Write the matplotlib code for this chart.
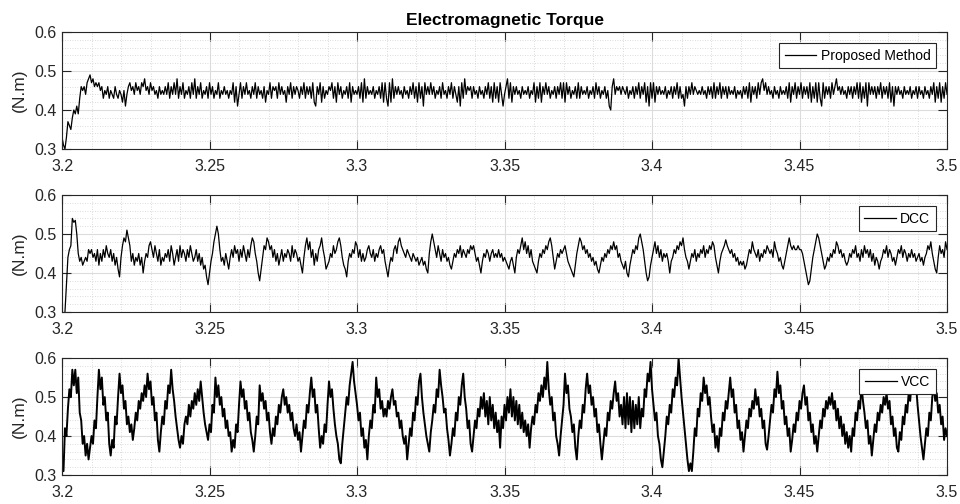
import numpy as np
import matplotlib.pyplot as plt
from matplotlib.ticker import MultipleLocator

plt.rcParams['font.family'] = ['Liberation Sans', 'DejaVu Sans']

# sample step of the traces (s)
dt = 0.0005
t0 = 3.2

# Proposed Method torque (N.m), one row = 0.01 s
tq_prop = [
    0.33, 0.31, 0.30, 0.33, 0.37, 0.36, 0.35, 0.38, 0.40, 0.39, 0.41, 0.39, 0.43, 0.46, 0.45, 0.46, 0.44, 0.47, 0.48, 0.49,
    0.47, 0.48, 0.46, 0.47, 0.46, 0.47, 0.45, 0.46, 0.43, 0.45, 0.44, 0.46, 0.43, 0.45, 0.44, 0.43, 0.46, 0.44, 0.43, 0.45,
    0.44, 0.42, 0.45, 0.41, 0.44, 0.46, 0.47, 0.45, 0.46, 0.44, 0.47, 0.45, 0.46, 0.44, 0.47, 0.46, 0.48, 0.45, 0.46, 0.44,
    0.47, 0.45, 0.46, 0.44, 0.45, 0.43, 0.46, 0.44, 0.45, 0.44, 0.46, 0.44, 0.47, 0.43, 0.46, 0.44, 0.47, 0.44, 0.48, 0.43,
    0.46, 0.44, 0.47, 0.43, 0.45, 0.44, 0.46, 0.43, 0.47, 0.44, 0.48, 0.43, 0.46, 0.44, 0.47, 0.43, 0.45, 0.44, 0.46, 0.43,
    0.47, 0.44, 0.46, 0.43, 0.45, 0.44, 0.47, 0.43, 0.45, 0.44, 0.46, 0.44, 0.45, 0.43, 0.45, 0.44, 0.47, 0.42, 0.46, 0.41,
    0.44, 0.47, 0.43, 0.46, 0.44, 0.47, 0.44, 0.45, 0.43, 0.46, 0.44, 0.47, 0.43, 0.46, 0.44, 0.45, 0.43, 0.46, 0.42, 0.45,
    0.44, 0.47, 0.43, 0.46, 0.45, 0.46, 0.43, 0.47, 0.44, 0.46, 0.44, 0.45, 0.42, 0.46, 0.44, 0.47, 0.43, 0.46, 0.44, 0.46,
    0.45, 0.43, 0.46, 0.44, 0.47, 0.43, 0.46, 0.44, 0.46, 0.43, 0.47, 0.42, 0.41, 0.46, 0.44, 0.47, 0.42, 0.46, 0.43, 0.45,
    0.44, 0.46, 0.45, 0.47, 0.43, 0.46, 0.42, 0.47, 0.44, 0.46, 0.43, 0.45, 0.44, 0.46, 0.43, 0.47, 0.42, 0.46, 0.44, 0.45,
    0.44, 0.46, 0.43, 0.47, 0.42, 0.48, 0.43, 0.46, 0.44, 0.45, 0.44, 0.46, 0.43, 0.45, 0.44, 0.46, 0.43, 0.47, 0.42, 0.47,
    0.43, 0.41, 0.47, 0.42, 0.48, 0.43, 0.46, 0.44, 0.46, 0.44, 0.45, 0.43, 0.46, 0.44, 0.45, 0.43, 0.46, 0.44, 0.47, 0.43,
    0.46, 0.42, 0.47, 0.43, 0.46, 0.41, 0.47, 0.44, 0.46, 0.44, 0.47, 0.44, 0.46, 0.43, 0.45, 0.44, 0.46, 0.43, 0.47, 0.44,
    0.45, 0.43, 0.46, 0.44, 0.47, 0.43, 0.46, 0.44, 0.42, 0.46, 0.41, 0.47, 0.43, 0.48, 0.44, 0.46, 0.45, 0.46, 0.43, 0.46,
    0.44, 0.45, 0.43, 0.46, 0.44, 0.45, 0.43, 0.46, 0.44, 0.47, 0.43, 0.46, 0.42, 0.47, 0.43, 0.46, 0.42, 0.47, 0.44, 0.41,
    0.44, 0.46, 0.48, 0.43, 0.47, 0.42, 0.46, 0.44, 0.46, 0.44, 0.45, 0.43, 0.46, 0.44, 0.45, 0.44, 0.46, 0.43, 0.45, 0.44,
    0.47, 0.42, 0.46, 0.43, 0.47, 0.42, 0.46, 0.44, 0.47, 0.44, 0.46, 0.43, 0.45, 0.44, 0.46, 0.43, 0.46, 0.44, 0.47, 0.43,
    0.47, 0.42, 0.47, 0.44, 0.46, 0.43, 0.45, 0.44, 0.46, 0.43, 0.47, 0.43, 0.46, 0.44, 0.45, 0.44, 0.46, 0.43, 0.45, 0.44,
    0.46, 0.43, 0.47, 0.44, 0.46, 0.43, 0.45, 0.44, 0.46, 0.43, 0.45, 0.41, 0.40, 0.46, 0.48, 0.44, 0.46, 0.45, 0.46, 0.44,
    0.46, 0.45, 0.44, 0.46, 0.43, 0.45, 0.44, 0.46, 0.43, 0.46, 0.44, 0.47, 0.43, 0.46, 0.44, 0.47, 0.42, 0.46, 0.41, 0.47,
    0.43, 0.47, 0.42, 0.46, 0.44, 0.46, 0.44, 0.45, 0.44, 0.46, 0.43, 0.45, 0.44, 0.46, 0.43, 0.46, 0.44, 0.47, 0.43, 0.46,
    0.43, 0.44, 0.41, 0.46, 0.43, 0.46, 0.44, 0.47, 0.44, 0.46, 0.45, 0.44, 0.45, 0.44, 0.46, 0.44, 0.45, 0.43, 0.46, 0.44,
    0.46, 0.43, 0.47, 0.43, 0.46, 0.44, 0.47, 0.43, 0.46, 0.44, 0.46, 0.43, 0.46, 0.44, 0.45, 0.44, 0.46, 0.43, 0.45, 0.44,
    0.45, 0.43, 0.46, 0.44, 0.46, 0.43, 0.47, 0.42, 0.46, 0.44, 0.46, 0.43, 0.47, 0.44, 0.47, 0.48, 0.45, 0.47, 0.44, 0.46,
    0.44, 0.45, 0.43, 0.46, 0.44, 0.45, 0.43, 0.46, 0.44, 0.45, 0.44, 0.46, 0.43, 0.47, 0.42, 0.46, 0.44, 0.47, 0.43, 0.46,
    0.44, 0.47, 0.43, 0.46, 0.44, 0.46, 0.43, 0.47, 0.42, 0.46, 0.43, 0.47, 0.42, 0.47, 0.43, 0.41, 0.47, 0.43, 0.46, 0.44,
    0.46, 0.43, 0.47, 0.44, 0.46, 0.48, 0.45, 0.46, 0.44, 0.46, 0.44, 0.45, 0.43, 0.46, 0.44, 0.46, 0.43, 0.46, 0.44, 0.47,
    0.43, 0.47, 0.42, 0.46, 0.43, 0.47, 0.41, 0.47, 0.44, 0.46, 0.44, 0.46, 0.43, 0.46, 0.44, 0.47, 0.43, 0.46, 0.44, 0.46,
    0.43, 0.47, 0.42, 0.46, 0.41, 0.46, 0.44, 0.46, 0.44, 0.45, 0.43, 0.46, 0.44, 0.45, 0.44, 0.46, 0.43, 0.45, 0.44, 0.46,
    0.43, 0.46, 0.44, 0.45, 0.43, 0.46, 0.44, 0.45, 0.43, 0.46, 0.44, 0.47, 0.42, 0.46, 0.43, 0.47, 0.42, 0.46, 0.43, 0.47,
    0.44,
]

# DCC torque (N.m)
tq_dcc = [
    0.22, 0.26, 0.30, 0.37, 0.44, 0.46, 0.47, 0.54, 0.53, 0.535, 0.50, 0.45, 0.43, 0.44, 0.42, 0.43, 0.44, 0.43, 0.46, 0.45,
    0.46, 0.44, 0.45, 0.43, 0.46, 0.42, 0.45, 0.43, 0.46, 0.44, 0.47, 0.45, 0.44, 0.46, 0.43, 0.45, 0.42, 0.44, 0.41, 0.39,
    0.44, 0.47, 0.49, 0.48, 0.51, 0.49, 0.47, 0.43, 0.45, 0.42, 0.44, 0.43, 0.45, 0.42, 0.44, 0.40, 0.43, 0.45, 0.44, 0.47,
    0.48, 0.46, 0.44, 0.47, 0.45, 0.43, 0.46, 0.42, 0.44, 0.43, 0.45, 0.44, 0.46, 0.43, 0.47, 0.45, 0.42, 0.44, 0.46, 0.43,
    0.47, 0.44, 0.46, 0.45, 0.43, 0.46, 0.44, 0.47, 0.45, 0.43, 0.44, 0.46, 0.43, 0.45, 0.42, 0.44, 0.41, 0.42, 0.39, 0.37,
    0.40, 0.43, 0.45, 0.48, 0.50, 0.52, 0.50, 0.46, 0.43, 0.44, 0.42, 0.45, 0.43, 0.41, 0.44, 0.46, 0.44, 0.47, 0.45, 0.46,
    0.43, 0.46, 0.44, 0.47, 0.45, 0.43, 0.46, 0.44, 0.47, 0.49, 0.48, 0.45, 0.43, 0.40, 0.38, 0.41, 0.44, 0.47, 0.46, 0.49,
    0.48, 0.46, 0.47, 0.44, 0.46, 0.43, 0.45, 0.42, 0.44, 0.46, 0.43, 0.45, 0.44, 0.46, 0.45, 0.43, 0.47, 0.44, 0.46, 0.45,
    0.43, 0.44, 0.42, 0.40, 0.44, 0.47, 0.49, 0.46, 0.48, 0.44, 0.46, 0.42, 0.45, 0.43, 0.46, 0.47, 0.49, 0.46, 0.44, 0.41,
    0.42, 0.43, 0.45, 0.44, 0.47, 0.45, 0.46, 0.48, 0.49, 0.47, 0.44, 0.42, 0.41, 0.39, 0.43, 0.45, 0.44, 0.46, 0.45, 0.48,
    0.47, 0.44, 0.46, 0.43, 0.45, 0.43, 0.44, 0.46, 0.47, 0.45, 0.44, 0.46, 0.43, 0.45, 0.44, 0.46, 0.47, 0.45, 0.46, 0.43,
    0.41, 0.39, 0.42, 0.44, 0.43, 0.46, 0.47, 0.45, 0.48, 0.49, 0.47, 0.46, 0.45, 0.44, 0.46, 0.45, 0.44, 0.43, 0.45, 0.44,
    0.43, 0.44, 0.42, 0.43, 0.44, 0.42, 0.43, 0.41, 0.40, 0.45, 0.48, 0.50, 0.48, 0.46, 0.44, 0.47, 0.45, 0.43, 0.46, 0.44,
    0.45, 0.43, 0.44, 0.42, 0.41, 0.43, 0.45, 0.44, 0.46, 0.45, 0.47, 0.44, 0.46, 0.45, 0.44, 0.46, 0.45, 0.47, 0.46, 0.47,
    0.45, 0.43, 0.44, 0.42, 0.40, 0.43, 0.45, 0.44, 0.46, 0.45, 0.43, 0.45, 0.46, 0.44, 0.45, 0.44, 0.46, 0.44, 0.45, 0.43,
    0.44, 0.43, 0.42, 0.41, 0.43, 0.44, 0.42, 0.40, 0.44, 0.46, 0.45, 0.47, 0.49, 0.46, 0.48, 0.45, 0.47, 0.44, 0.46, 0.43,
    0.42, 0.41, 0.40, 0.43, 0.45, 0.44, 0.46, 0.45, 0.47, 0.46, 0.48, 0.49, 0.47, 0.44, 0.41, 0.43, 0.45, 0.44, 0.46, 0.45,
    0.46, 0.47, 0.45, 0.43, 0.42, 0.41, 0.40, 0.39, 0.42, 0.45, 0.47, 0.49, 0.48, 0.46, 0.47, 0.45, 0.46, 0.44, 0.45, 0.43,
    0.44, 0.42, 0.43, 0.41, 0.40, 0.42, 0.44, 0.43, 0.45, 0.44, 0.46, 0.45, 0.47, 0.46, 0.48, 0.46, 0.47, 0.44, 0.45, 0.43,
    0.42, 0.41, 0.43, 0.40, 0.39, 0.42, 0.44, 0.46, 0.45, 0.47, 0.46, 0.49, 0.50, 0.48, 0.46, 0.43, 0.40, 0.38, 0.39, 0.42,
    0.44, 0.46, 0.48, 0.45, 0.47, 0.44, 0.46, 0.43, 0.45, 0.44, 0.45, 0.43, 0.40, 0.43, 0.44, 0.46, 0.45, 0.47, 0.46, 0.48,
    0.47, 0.49, 0.46, 0.44, 0.43, 0.41, 0.43, 0.45, 0.44, 0.46, 0.43, 0.45, 0.44, 0.46, 0.45, 0.47, 0.44, 0.46, 0.45, 0.47,
    0.46, 0.48, 0.47, 0.44, 0.42, 0.40, 0.43, 0.45, 0.46, 0.47, 0.485, 0.47, 0.46, 0.45, 0.46, 0.44, 0.45, 0.43, 0.44, 0.42,
    0.43, 0.42, 0.43, 0.41, 0.42, 0.44, 0.46, 0.45, 0.48, 0.46, 0.45, 0.44, 0.46, 0.43, 0.45, 0.44, 0.46, 0.45, 0.47, 0.46,
    0.45, 0.46, 0.44, 0.48, 0.46, 0.45, 0.43, 0.44, 0.42, 0.41, 0.43, 0.45, 0.47, 0.49, 0.47, 0.46, 0.47, 0.46, 0.46, 0.47,
    0.46, 0.46, 0.45, 0.43, 0.41, 0.39, 0.37, 0.38, 0.41, 0.44, 0.46, 0.48, 0.50, 0.49, 0.47, 0.45, 0.43, 0.41, 0.42, 0.44,
    0.43, 0.45, 0.44, 0.46, 0.45, 0.48, 0.47, 0.45, 0.46, 0.44, 0.45, 0.43, 0.42, 0.43, 0.45, 0.44, 0.46, 0.45, 0.47, 0.44,
    0.45, 0.43, 0.46, 0.44, 0.47, 0.45, 0.46, 0.44, 0.46, 0.43, 0.45, 0.42, 0.44, 0.43, 0.41, 0.43, 0.44, 0.46, 0.45, 0.47,
    0.44, 0.46, 0.45, 0.43, 0.44, 0.42, 0.44, 0.46, 0.45, 0.47, 0.44, 0.46, 0.45, 0.43, 0.45, 0.44, 0.46, 0.44, 0.45, 0.43,
    0.44, 0.45, 0.43, 0.44, 0.42, 0.44, 0.45, 0.47, 0.46, 0.48, 0.45, 0.43, 0.41, 0.40, 0.44, 0.47, 0.45, 0.46, 0.44, 0.48,
    0.46,
]

# VCC torque (N.m)
tq_vcc = [
    0.35, 0.31, 0.42, 0.40, 0.47, 0.52, 0.50, 0.57, 0.53, 0.57, 0.51, 0.55, 0.46, 0.44, 0.38, 0.40, 0.35, 0.38, 0.34, 0.37,
    0.40, 0.38, 0.44, 0.42, 0.50, 0.57, 0.52, 0.55, 0.48, 0.50, 0.44, 0.46, 0.38, 0.35, 0.39, 0.37, 0.45, 0.43, 0.50, 0.56,
    0.51, 0.53, 0.47, 0.49, 0.43, 0.45, 0.41, 0.43, 0.39, 0.42, 0.46, 0.44, 0.49, 0.47, 0.51, 0.49, 0.53, 0.50, 0.56, 0.52,
    0.54, 0.48, 0.50, 0.44, 0.46, 0.39, 0.36, 0.41, 0.45, 0.43, 0.49, 0.47, 0.53, 0.51, 0.57, 0.52, 0.49, 0.45, 0.42, 0.39,
    0.37, 0.40, 0.38, 0.43, 0.45, 0.43, 0.48, 0.45, 0.49, 0.47, 0.51, 0.48, 0.52, 0.49, 0.54, 0.50, 0.46, 0.43, 0.41, 0.39,
    0.43, 0.41, 0.48, 0.46, 0.55, 0.50, 0.53, 0.48, 0.50, 0.45, 0.47, 0.42, 0.44, 0.40, 0.41, 0.36, 0.39, 0.37, 0.43, 0.41,
    0.48, 0.54, 0.50, 0.52, 0.47, 0.49, 0.44, 0.46, 0.41, 0.39, 0.36, 0.40, 0.45, 0.43, 0.53, 0.49, 0.51, 0.47, 0.49, 0.44,
    0.46, 0.41, 0.38, 0.42, 0.40, 0.45, 0.43, 0.48, 0.46, 0.50, 0.52, 0.48, 0.50, 0.46, 0.48, 0.44, 0.46, 0.42, 0.40, 0.43,
    0.39, 0.41, 0.36, 0.40, 0.44, 0.42, 0.48, 0.46, 0.51, 0.55, 0.50, 0.52, 0.46, 0.48, 0.42, 0.37, 0.40, 0.38, 0.43, 0.41,
    0.48, 0.54, 0.50, 0.52, 0.47, 0.43, 0.40, 0.38, 0.34, 0.33, 0.38, 0.42, 0.46, 0.50, 0.48, 0.53, 0.56, 0.59, 0.54, 0.51,
    0.48, 0.44, 0.46, 0.40, 0.42, 0.37, 0.39, 0.34, 0.40, 0.44, 0.42, 0.48, 0.46, 0.55, 0.50, 0.52, 0.47, 0.49, 0.45, 0.47,
    0.45, 0.49, 0.47, 0.50, 0.52, 0.48, 0.49, 0.45, 0.46, 0.42, 0.44, 0.40, 0.38, 0.40, 0.34, 0.38, 0.42, 0.40, 0.46, 0.44,
    0.50, 0.48, 0.54, 0.56, 0.50, 0.46, 0.43, 0.40, 0.38, 0.36, 0.41, 0.44, 0.48, 0.46, 0.52, 0.50, 0.57, 0.53, 0.50, 0.46,
    0.47, 0.42, 0.39, 0.35, 0.38, 0.42, 0.40, 0.46, 0.44, 0.50, 0.48, 0.53, 0.56, 0.50, 0.47, 0.42, 0.44, 0.38, 0.36, 0.40,
    0.44, 0.42, 0.47, 0.45, 0.50, 0.47, 0.51, 0.45, 0.49, 0.43, 0.50, 0.44, 0.48, 0.42, 0.46, 0.41, 0.44, 0.37, 0.45, 0.42,
    0.48, 0.44, 0.50, 0.46, 0.52, 0.45, 0.50, 0.44, 0.49, 0.43, 0.48, 0.42, 0.46, 0.41, 0.44, 0.40, 0.43, 0.37, 0.42, 0.45,
    0.43, 0.48, 0.46, 0.51, 0.49, 0.53, 0.50, 0.55, 0.52, 0.59, 0.52, 0.48, 0.50, 0.44, 0.46, 0.40, 0.38, 0.35, 0.40, 0.44,
    0.48, 0.56, 0.51, 0.53, 0.47, 0.45, 0.41, 0.43, 0.37, 0.34, 0.40, 0.44, 0.42, 0.48, 0.46, 0.52, 0.56, 0.51, 0.53, 0.48,
    0.50, 0.45, 0.47, 0.41, 0.43, 0.38, 0.34, 0.38, 0.42, 0.40, 0.46, 0.44, 0.49, 0.47, 0.51, 0.54, 0.49, 0.51, 0.45, 0.48,
    0.43, 0.50, 0.42, 0.51, 0.43, 0.50, 0.41, 0.49, 0.42, 0.48, 0.43, 0.50, 0.42, 0.47, 0.45, 0.52, 0.50, 0.56, 0.54, 0.59,
    0.52, 0.48, 0.44, 0.46, 0.40, 0.38, 0.34, 0.32, 0.36, 0.40, 0.45, 0.43, 0.48, 0.46, 0.52, 0.50, 0.55, 0.53, 0.60, 0.55,
    0.50, 0.46, 0.42, 0.38, 0.34, 0.31, 0.33, 0.31, 0.36, 0.42, 0.40, 0.47, 0.45, 0.51, 0.49, 0.55, 0.51, 0.53, 0.48, 0.50,
    0.45, 0.41, 0.43, 0.37, 0.40, 0.36, 0.42, 0.40, 0.46, 0.44, 0.49, 0.47, 0.51, 0.55, 0.50, 0.52, 0.46, 0.48, 0.42, 0.44,
    0.39, 0.41, 0.36, 0.40, 0.44, 0.42, 0.47, 0.45, 0.49, 0.47, 0.52, 0.48, 0.50, 0.45, 0.47, 0.42, 0.44, 0.38, 0.365, 0.40,
    0.44, 0.48, 0.46, 0.52, 0.50, 0.565, 0.51, 0.53, 0.47, 0.49, 0.43, 0.45, 0.40, 0.42, 0.36, 0.39, 0.43, 0.41, 0.46, 0.44,
    0.49, 0.47, 0.51, 0.53, 0.48, 0.50, 0.44, 0.46, 0.41, 0.43, 0.38, 0.40, 0.36, 0.40, 0.44, 0.42, 0.47, 0.45, 0.49, 0.47,
    0.50, 0.48, 0.51, 0.47, 0.49, 0.44, 0.47, 0.42, 0.45, 0.40, 0.43, 0.38, 0.41, 0.37, 0.40, 0.36, 0.42, 0.40, 0.46, 0.44,
    0.49, 0.47, 0.53, 0.49, 0.46, 0.42, 0.44, 0.38, 0.40, 0.35, 0.39, 0.43, 0.41, 0.46, 0.44, 0.48, 0.46, 0.50, 0.48, 0.51,
    0.47, 0.49, 0.43, 0.45, 0.40, 0.42, 0.37, 0.36, 0.41, 0.39, 0.45, 0.43, 0.48, 0.46, 0.51, 0.49, 0.54, 0.52, 0.57, 0.53,
    0.48, 0.44, 0.40, 0.37, 0.34, 0.38, 0.42, 0.40, 0.46, 0.44, 0.50, 0.53, 0.49, 0.51, 0.46, 0.48, 0.43, 0.45, 0.39, 0.42,
    0.40,
]

series = [tq_prop, tq_dcc, tq_vcc]
names = ['Proposed Method', 'DCC', 'VCC']
widths = [0.9, 0.9, 1.4]
xticks = [3.2, 3.25, 3.3, 3.35, 3.4, 3.45, 3.5]
xticklabels = ['3.2', '3.25', '3.3', '3.35', '3.4', '3.45', '3.5']
yticks = [0.3, 0.4, 0.5, 0.6]
yticklabels = ['0.3', '0.4', '0.5', '0.6']

dark = '#262626'
fig = plt.figure(figsize=(9.6, 5.04), dpi=100)
bottoms = [0.7044, 0.381, 0.0575]

for k, y in enumerate(series):
    ax = fig.add_axes([0.0646, bottoms[k], 0.9219, 0.2321])
    t = t0 + dt * np.arange(len(y))
    ax.plot(t, y, color='k', lw=widths[k], label=names[k])
    ax.set_xlim(3.2, 3.5)
    ax.set_ylim(0.3, 0.6)
    ax.set_xticks(xticks)
    ax.set_xticklabels(xticklabels)
    ax.set_yticks(yticks)
    ax.set_yticklabels(yticklabels)
    ax.xaxis.set_minor_locator(MultipleLocator(0.01))
    ax.yaxis.set_minor_locator(MultipleLocator(0.02))
    ax.grid(True, which='major', color='#dcdcdc', lw=0.8, ls='-')
    ax.grid(True, which='minor', color='#d0d0d0', lw=0.6, ls=(0, (1, 2)))
    ax.set_axisbelow(True)
    ax.tick_params(which='major', direction='in', length=6.5, width=0.8, color=dark,
                   top=True, right=True, labelsize=11.5, labelcolor=dark)
    ax.tick_params(axis='x', which='major', pad=7)
    ax.tick_params(axis='y', which='major', pad=4)
    ax.tick_params(which='minor', length=0, top=True, right=True)
    for s in ax.spines.values():
        s.set_color(dark)
        s.set_linewidth(0.8)
    ax.set_ylabel('(N.m)', fontsize=12.5, color=dark, labelpad=5)
    leg = ax.legend(loc='upper right', fontsize=10, frameon=True, fancybox=False,
                    handlelength=2.3, handletextpad=0.3, borderpad=0.4,
                    borderaxespad=0.8, edgecolor='#262626', framealpha=1)
    leg.get_frame().set_linewidth(0.8)
    leg.get_lines()[0].set_linewidth(0.9)
    if k == 0:
        ax.set_title('Electromagnetic Torque', fontsize=12.5, fontweight='bold', color='black', pad=5)

fig.savefig('out.png', dpi=100)
